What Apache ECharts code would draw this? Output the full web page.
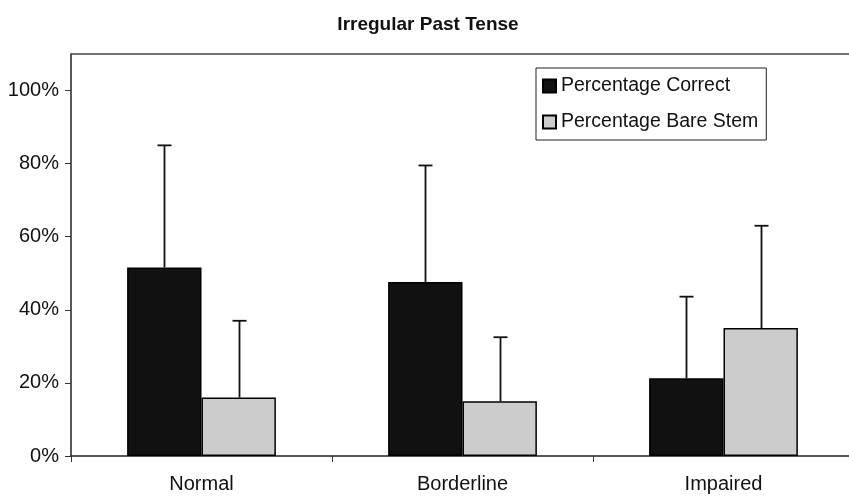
<!DOCTYPE html>
<html>
<head>
<meta charset="utf-8">
<script src="https://cdn.jsdelivr.net/npm/echarts@6/dist/echarts.min.js"></script>
<style>
html,body{margin:0;padding:0;background:#fff;overflow:hidden;width:849px;height:496px;}
#chart{width:854px;height:496px;}
</style>
</head>
<body>
<div id="chart"></div>
<script>
const categories = ['Normal', 'Borderline', 'Impaired'];
const seriesNames = ['Percentage Correct', 'Percentage Bare Stem'];
const correctValues = [51.6, 47.6, 21.3];
const correctUpper = [85.0, 79.5, 43.6];
const bareStemValues = [16.0, 15.0, 35.0];
const bareStemUpper = [37.0, 32.5, 63.0];
const yTicks = [0, 20, 40, 60, 80, 100];

const FONT = '"Liberation Sans", Arial, sans-serif';
const CAT_GAP = 0.43;

function errorSeries(values, upper, side) {
  return {
    type: 'custom',
    silent: true,
    z: 5,
    data: values.map((v, i) => [i, v, upper[i]]),
    renderItem: function (params, api) {
      const idx = api.value(0);
      const base = api.coord([idx, api.value(1)]);
      const top = api.coord([idx, api.value(2)]);
      const band = api.size([1, 0])[0];
      const barW = band * (1 - CAT_GAP) / 2;
      const x = Math.round(base[0] + side * barW / 2) + 0.5;
      const style = { stroke: '#111', lineWidth: 1.8 };
      return {
        type: 'group',
        children: [
          { type: 'line', shape: { x1: x, y1: base[1], x2: x, y2: top[1] }, style: style },
          { type: 'line', shape: { x1: x - 7, y1: top[1], x2: x + 7, y2: top[1] }, style: style }
        ]
      };
    }
  };
}

const chart = echarts.init(document.getElementById('chart'));
chart.setOption({
  animation: false,
  backgroundColor: '#fff',
  title: {
    text: 'Irregular Past Tense',
    left: 423, top: 10, textAlign: 'center',
    textStyle: { fontFamily: FONT, fontWeight: 'bold', fontSize: 19, color: '#111' }
  },
  legend: {
    left: 536, top: 68,
    orient: 'vertical',
    backgroundColor: '#fff',
    borderColor: '#222', borderWidth: 1,
    padding: [8, 8, 8, 6],
    itemGap: 16,
    itemWidth: 13, itemHeight: 13,
    icon: 'rect',
    data: seriesNames,
    textStyle: { fontFamily: FONT, fontSize: 19.5, color: '#111', padding: [0, 0, 0, 0] }
  },
  grid: {
    left: 71, top: 54, right: 0, bottom: 40,
    show: false
  },
  xAxis: [
    {
      type: 'category',
      data: categories,
      axisLine: { lineStyle: { color: '#222', width: 1.5 } },
      axisTick: { show: true, length: 6, lineStyle: { color: '#333' } },
      axisLabel: { fontFamily: FONT, fontSize: 20, color: '#111', margin: 18 },
      splitLine: { show: false }
    },
    {
      type: 'category',
      data: categories,
      position: 'top',
      axisLine: { show: true, lineStyle: { color: '#444', width: 1.5 } },
      axisTick: { show: false },
      axisLabel: { show: false },
      splitLine: { show: false }
    }
  ],
  yAxis: {
    type: 'value',
    min: 0, max: 110, interval: 20,
    axisLine: { show: true, lineStyle: { color: '#222', width: 1.5 } },
    axisTick: { show: true, length: 6, customValues: yTicks, lineStyle: { color: '#333' } },
    axisLabel: {
      fontFamily: FONT, fontSize: 20, color: '#111', margin: 12,
      customValues: yTicks,
      formatter: function (v) { return v + '%'; }
    },
    splitLine: { show: false }
  },
  series: [
    {
      name: seriesNames[0], type: 'bar', data: correctValues,
      barGap: '0%', barCategoryGap: (CAT_GAP * 100) + '%',
      itemStyle: { color: '#111111', borderColor: '#000', borderWidth: 1.5 }
    },
    {
      name: seriesNames[1], type: 'bar', data: bareStemValues,
      barGap: '0%', barCategoryGap: (CAT_GAP * 100) + '%',
      itemStyle: { color: '#cccccc', borderColor: '#000', borderWidth: 1.5 }
    },
    errorSeries(correctValues, correctUpper, -1),
    errorSeries(bareStemValues, bareStemUpper, 1)
  ]
});
</script>
</body>
</html>
